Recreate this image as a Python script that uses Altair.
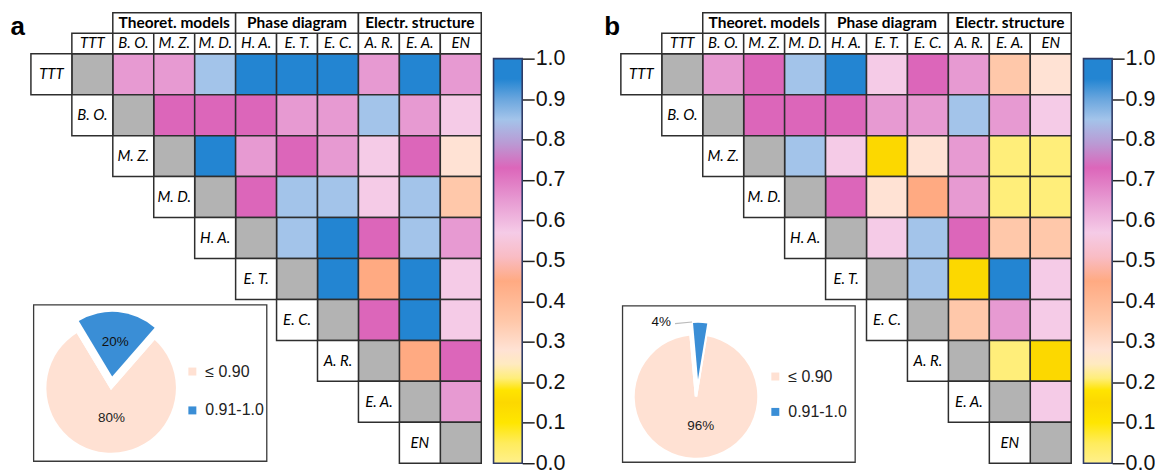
import math
import altair as alt
import pandas as pd

# ---------------- data ----------------
labels = ["TTT", "B. O.", "M. Z.", "M. D.", "H. A.", "E. T.", "E. C.", "A. R.", "E. A.", "EN"]
groups = ["", "Theoret. models", "Theoret. models", "Theoret. models",
          "Phase diagram", "Phase diagram", "Phase diagram",
          "Electr. structure", "Electr. structure", "Electr. structure"]

# upper triangle (row i against columns i+1 .. 9)
vals_a = [
    [0.65, 0.65, 0.85, 0.95, 0.95, 0.95, 0.65, 0.95, 0.65],
    [0.73, 0.73, 0.73, 0.65, 0.65, 0.85, 0.65, 0.57],
    [0.95, 0.65, 0.73, 0.65, 0.57, 0.73, 0.28],
    [0.73, 0.85, 0.85, 0.57, 0.85, 0.35],
    [0.85, 0.95, 0.73, 0.85, 0.65],
    [0.95, 0.45, 0.95, 0.57],
    [0.73, 0.95, 0.57],
    [0.45, 0.73],
    [0.65],
]
vals_b = [
    [0.65, 0.73, 0.85, 0.95, 0.57, 0.73, 0.65, 0.35, 0.28],
    [0.73, 0.73, 0.73, 0.65, 0.65, 0.85, 0.65, 0.57],
    [0.85, 0.57, 0.15, 0.28, 0.65, 0.21, 0.21],
    [0.73, 0.28, 0.45, 0.65, 0.21, 0.21],
    [0.57, 0.85, 0.73, 0.35, 0.35],
    [0.85, 0.15, 0.95, 0.57],
    [0.35, 0.65, 0.57],
    [0.21, 0.15],
    [0.57],
]

pie_cats = ["≤ 0.90", "0.91-1.0"]
pie_pct_a = [80, 20]
pie_pct_b = [96, 4]

cbar_stops = [0.00, 0.05, 0.10, 0.15, 0.18, 0.21, 0.245, 0.28, 0.35, 0.45, 0.51,
              0.57, 0.65, 0.73, 0.79, 0.85, 0.90, 0.95, 1.00]
cbar_colors = ["#FFF08C", "#FFEC5C", "#FFE600", "#FCD800", "#FFE400", "#FFEE7A", "#FFEAC0",
               "#FFE2D4", "#FFC8AA", "#FFAA82", "#F9BCC4", "#F5CBE7", "#E79AD2", "#DC66BA",
               "#BA9AD4", "#A3C4EA", "#6AA6DE", "#2385D2", "#2385D2"]
cbar_ticks = [0.0, 0.1, 0.2, 0.3, 0.4, 0.5, 0.6, 0.7, 0.8, 0.9, 1.0]
panel_letters = ["a", "b"]

# ---------------- style ----------------
GRID = "#2e2e2e"
FONT = "Lato"
NUMFONT = "Liberation Sans"
PEACH = "#FFE1D3"
PIEBLUE = "#3A8ED6"
GRAY = "#B3B3B3"
NAVY = "#2f3b66"
W, H = 493, 452

xs = alt.Scale(domain=[-1, 11], nice=False, zero=False)
ys = alt.Scale(domain=[-1, 10], nice=False, zero=False, reverse=True)
fill_scale = alt.Scale(type="linear", domain=cbar_stops, range=cbar_colors, interpolate="rgb")

n = len(labels)
diag = pd.DataFrame({"r": list(range(n)), "c": list(range(n))})
rowlab = pd.DataFrame({"r": list(range(n)), "c": [i - 1 for i in range(n)], "lab": labels})
colhead = pd.DataFrame({"c": list(range(n)), "r": [-0.5] * n, "lab": labels})
grp = pd.DataFrame({"c": list(range(n)), "g": groups})


def matrix_frame(vals):
    recs = []
    for r, row in enumerate(vals):
        for k, v in enumerate(row):
            recs.append({"r": r, "c": r + 1 + k, "v": v})
    return pd.DataFrame(recs)


def X(f):
    return alt.X(f, scale=xs, axis=None)


def Y(f):
    return alt.Y(f, scale=ys, axis=None)


def DX(v):
    return alt.X(datum=v, scale=xs, axis=None)


def DY(v):
    return alt.Y(datum=v, scale=ys, axis=None)


def boxes(df, h, fill):
    return alt.Chart(df).transform_calculate(
        c1="datum.c + 1", r1=f"datum.r + {h}"
    ).mark_rect(stroke=GRID, strokeWidth=1.5).encode(
        x=X("c:Q"), x2="c1:Q", y=Y("r:Q"), y2="r1:Q", fill=fill
    )


def box_text(df, h):
    return alt.Chart(df).transform_calculate(
        cm="datum.c + 0.5", rm=f"datum.r + {h / 2}"
    ).mark_text(font=FONT, fontStyle="italic", fontSize=15, color="#000").encode(
        x=X("cm:Q"), y=Y("rm:Q"), text="lab:N"
    )


params = [
    dict(cx=0.96, cy=8.163, R=65, Rb=65, start=-31, dx=1, dy=-11.5, big_r=30.5, big_dx=3,
         small_r=35, box=(-0.934, 4.761, 6.131, 9.952), leg=(154, 352, 23), letter_x=-1.5,
         outside=None),
    dict(cx=0.835, cy=8.37, R=61.5, Rb=57, start=-5, dx=2, dy=-17, big_r=30, big_dx=6,
         small_r=None, box=(-0.959, 4.723, 6.155, 9.976), leg=(147, 357, 19.5), letter_x=-1.404,
         outside=dict(tx=-0.017, ty=6.561, lx0=0.324, lx1=0.738, ly0=6.593, ly1=6.551)),
]


def panel(i, vals, pcts):
    p = params[i]
    layers = []
    layers.append(boxes(matrix_frame(vals), 1.0, alt.Fill("v:Q", scale=fill_scale, legend=None)))
    layers.append(boxes(diag, 1.0, alt.value(GRAY)))
    layers.append(boxes(rowlab, 1.0, alt.value("white")))
    layers.append(box_text(rowlab, 1.0))
    layers.append(boxes(colhead, 0.5, alt.value("white")))
    layers.append(box_text(colhead, 0.5))

    gbase = alt.Chart(grp).transform_filter("datum.g != ''").transform_aggregate(
        c="min(c)", cmax="max(c)", groupby=["g"]
    ).transform_calculate(c1="datum.cmax + 1", r="-1", r1="-0.5").transform_calculate(
        cm="(datum.c + datum.c1) / 2", rm="-0.75"
    )
    layers.append(gbase.mark_rect(fill="white", stroke=GRID, strokeWidth=1.5).encode(
        x=X("c:Q"), x2="c1:Q", y=Y("r:Q"), y2="r1:Q"))
    layers.append(gbase.mark_text(font=FONT, fontWeight="bold", fontSize=15.5, color="#000").encode(
        x=X("cm:Q"), y=Y("rm:Q"), text="g:N"))

    letter = pd.DataFrame({"t": [panel_letters[i]]})
    layers.append(alt.Chart(letter).mark_text(
        font=NUMFONT, fontWeight="bold", fontSize=26, align="left", baseline="alphabetic", color="#000"
    ).encode(x=DX(p["letter_x"]), y=DY(-0.47), text="t:N"))

    bx0, bx1, by0, by1 = p["box"]
    layers.append(alt.Chart(letter).mark_rect(fill="white", stroke="#3a3a3a", strokeWidth=1.3).encode(
        x=DX(bx0), x2=alt.X2(datum=bx1), y=DY(by0), y2=alt.Y2(datum=by1)))

    pie = pd.DataFrame({"cat": pie_cats, "pct": pcts})
    blue_test = f"datum.cat == '{pie_cats[1]}'"
    base = alt.Chart(pie).transform_calculate(
        ord=f"{blue_test} ? 0 : 1", lab="datum.pct + '%'"
    )
    s = math.radians(p["start"])
    theta = alt.Theta("pct:Q", stack=True, scale=alt.Scale(range=[s, s + 2 * math.pi]))
    order = alt.Order("ord:Q")
    cx, cy = DX(p["cx"]), DY(p["cy"])
    lx, ly, rp = p["leg"]

    layers.append(base.mark_arc(outerRadius=p["R"]).encode(
        x=cx, y=cy, theta=theta, order=order,
        color=alt.Color("cat:N", scale=alt.Scale(domain=pie_cats, range=[PEACH, PIEBLUE]),
                        legend=alt.Legend(orient="none", legendX=lx, legendY=ly, title=None,
                                          symbolType="square", symbolSize=64, symbolStrokeWidth=0,
                                          labelFont=NUMFONT, labelFontSize=16, labelColor="#222",
                                          rowPadding=rp, labelOffset=5, padding=0))))
    layers.append(base.mark_arc(outerRadius=p["R"] + 2, stroke="white", strokeWidth=2.5).encode(
        x=cx, y=cy, theta=theta, order=order,
        fill=alt.condition(blue_test, alt.value("white"), alt.value("transparent"))))
    layers.append(base.mark_arc(outerRadius=p["Rb"], xOffset=p["dx"], yOffset=p["dy"]).encode(
        x=cx, y=cy, theta=theta, order=order,
        fill=alt.condition(blue_test, alt.value(PIEBLUE), alt.value("transparent"))))
    layers.append(base.mark_text(radius=p["big_r"], xOffset=p["big_dx"], font=NUMFONT,
                                 fontSize=13.5, color="#222").encode(
        x=cx, y=cy, theta=theta, order=order,
        text=alt.condition(blue_test, alt.value(""), alt.Text("lab:N"))))
    if p["small_r"] is not None:
        layers.append(base.mark_text(radius=p["small_r"], xOffset=p["dx"], yOffset=p["dy"],
                                     font=NUMFONT, fontSize=13.5, color="#111").encode(
            x=cx, y=cy, theta=theta, order=order,
            text=alt.condition(blue_test, alt.Text("lab:N"), alt.value(""))))
    else:
        o = p["outside"]
        small = pie[pie["cat"] == pie_cats[1]].assign(lab=lambda d: d["pct"].astype(str) + "%")
        layers.append(alt.Chart(small).mark_rule(color="#bbbbbb", strokeWidth=1.2).encode(
            x=DX(o["lx0"]), x2=alt.X2(datum=o["lx1"]), y=DY(o["ly0"]), y2=alt.Y2(datum=o["ly1"])))
        layers.append(alt.Chart(small).mark_text(font=NUMFONT, fontSize=13.5, color="#111").encode(
            x=DX(o["tx"]), y=DY(o["ty"]), text="lab:N"))

    grid = alt.layer(*layers)

    cb = pd.DataFrame({"lo": [cbar_ticks[0]], "hi": [cbar_ticks[-1]]})
    grad = alt.LinearGradient(
        gradient="linear", x1=0, x2=0, y1=1, y2=0,
        stops=[alt.GradientStop(offset=o, color=c) for o, c in zip(cbar_stops, cbar_colors)])
    cbar = alt.Chart(cb).mark_rect(fill=grad, stroke=NAVY, strokeWidth=1.6).encode(
        x=DX(10.3), x2=alt.X2(datum=11.0),
        y=alt.Y("lo:Q", scale=alt.Scale(domain=[0, 1.1133], nice=False, zero=False),
                axis=alt.Axis(orient="right", values=cbar_ticks, format=".1f", domain=False,
                              ticks=True, tickSize=12, tickWidth=1.5, tickColor="#222",
                              labelFont=NUMFONT, labelFontSize=21.5, labelColor="#111",
                              labelPadding=1, grid=False, title=None)),
        y2="hi:Q")

    return alt.layer(grid, cbar).resolve_scale(y="independent").properties(width=W, height=H)


chart = alt.hconcat(
    panel(0, vals_a, pie_pct_a), panel(1, vals_b, pie_pct_b), spacing=99, bounds="flush"
).resolve_scale(color="independent").properties(
    padding={"left": 2, "top": 3, "right": 0, "bottom": 0}
).configure_view(stroke=None)

chart.save("out.html", embed_options={"renderer": "svg", "actions": False})
